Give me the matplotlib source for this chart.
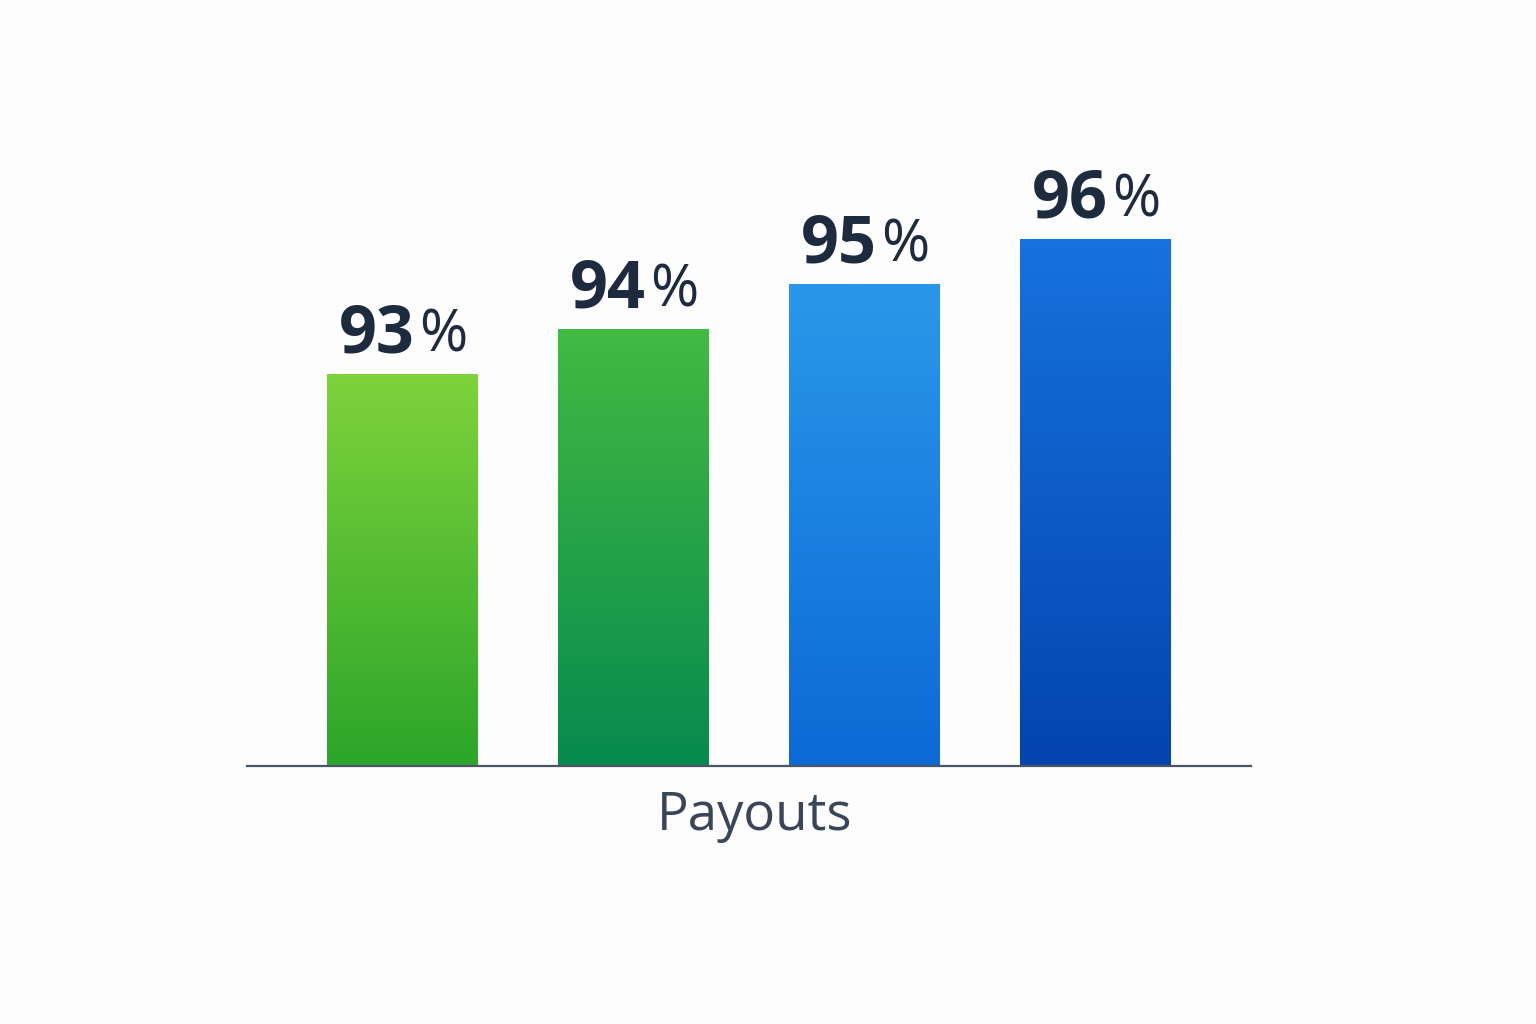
import numpy as np
import matplotlib.pyplot as plt
from matplotlib.colors import LinearSegmentedColormap

categories = ["A", "B", "C", "D"]
values = [93, 94, 95, 96]
top_colors = ["#7ed33b", "#43ba42", "#2a98ea", "#1672df"]
bottom_colors = ["#2ca52a", "#068a4f", "#0c69d6", "#0444ae"]

plt.rcParams['font.family'] = ['Open Sans', 'DejaVu Sans']

fig = plt.figure(figsize=(15.36, 10.24), dpi=100)
fig.patch.set_facecolor("#fdfdfd")
ax = fig.add_axes([247 / 1536, 1 - 766 / 1024, 1004 / 1536, (766 - 59) / 1024])
ax.set_facecolor("none")

x = np.arange(len(categories))
bars = ax.bar(x, values, width=0.65, bottom=0, color="none", edgecolor="none")
ax.set_xlim(-0.671, 3.675)
ax.set_ylim(84.3, 100)

# gradient fill for each bar, clipped to the bar rectangle
grad = np.linspace(1, 0, 256).reshape(-1, 1)
for b, c_top, c_bot in zip(bars, top_colors, bottom_colors):
    cmap = LinearSegmentedColormap.from_list("g", [c_bot, c_top])
    x0 = b.get_x()
    w = b.get_width()
    h = b.get_height()
    im = ax.imshow(grad, cmap=cmap, aspect="auto", extent=[x0, x0 + w, 84.3, h],
                   zorder=2, vmin=0, vmax=1)
    im.set_clip_path(b)

# value labels: heavier digits, lighter percent sign
for xi, v in zip(x, values):
    ax.annotate(str(v), (xi, v), xytext=(9, 4), textcoords="offset points",
                ha="right", va="bottom", fontsize=48, fontweight="bold", color="#1e2a3d")
    ax.annotate("%", (xi, v), xytext=(12, 6), textcoords="offset points",
                ha="left", va="bottom", fontsize=42, color="#1e2a3d")

for s in ["top", "right", "left"]:
    ax.spines[s].set_visible(False)
ax.spines["bottom"].set_color("#4a5566")
ax.spines["bottom"].set_linewidth(1.6)
ax.set_yticks([])
ax.set_xticks([])
fig.text(755 / 1536, 1 - 816 / 1024, "Payouts", fontsize=38, color="#3a4658",
         ha="center", va="center")

fig.savefig("out.png", dpi=100, facecolor=fig.get_facecolor())
